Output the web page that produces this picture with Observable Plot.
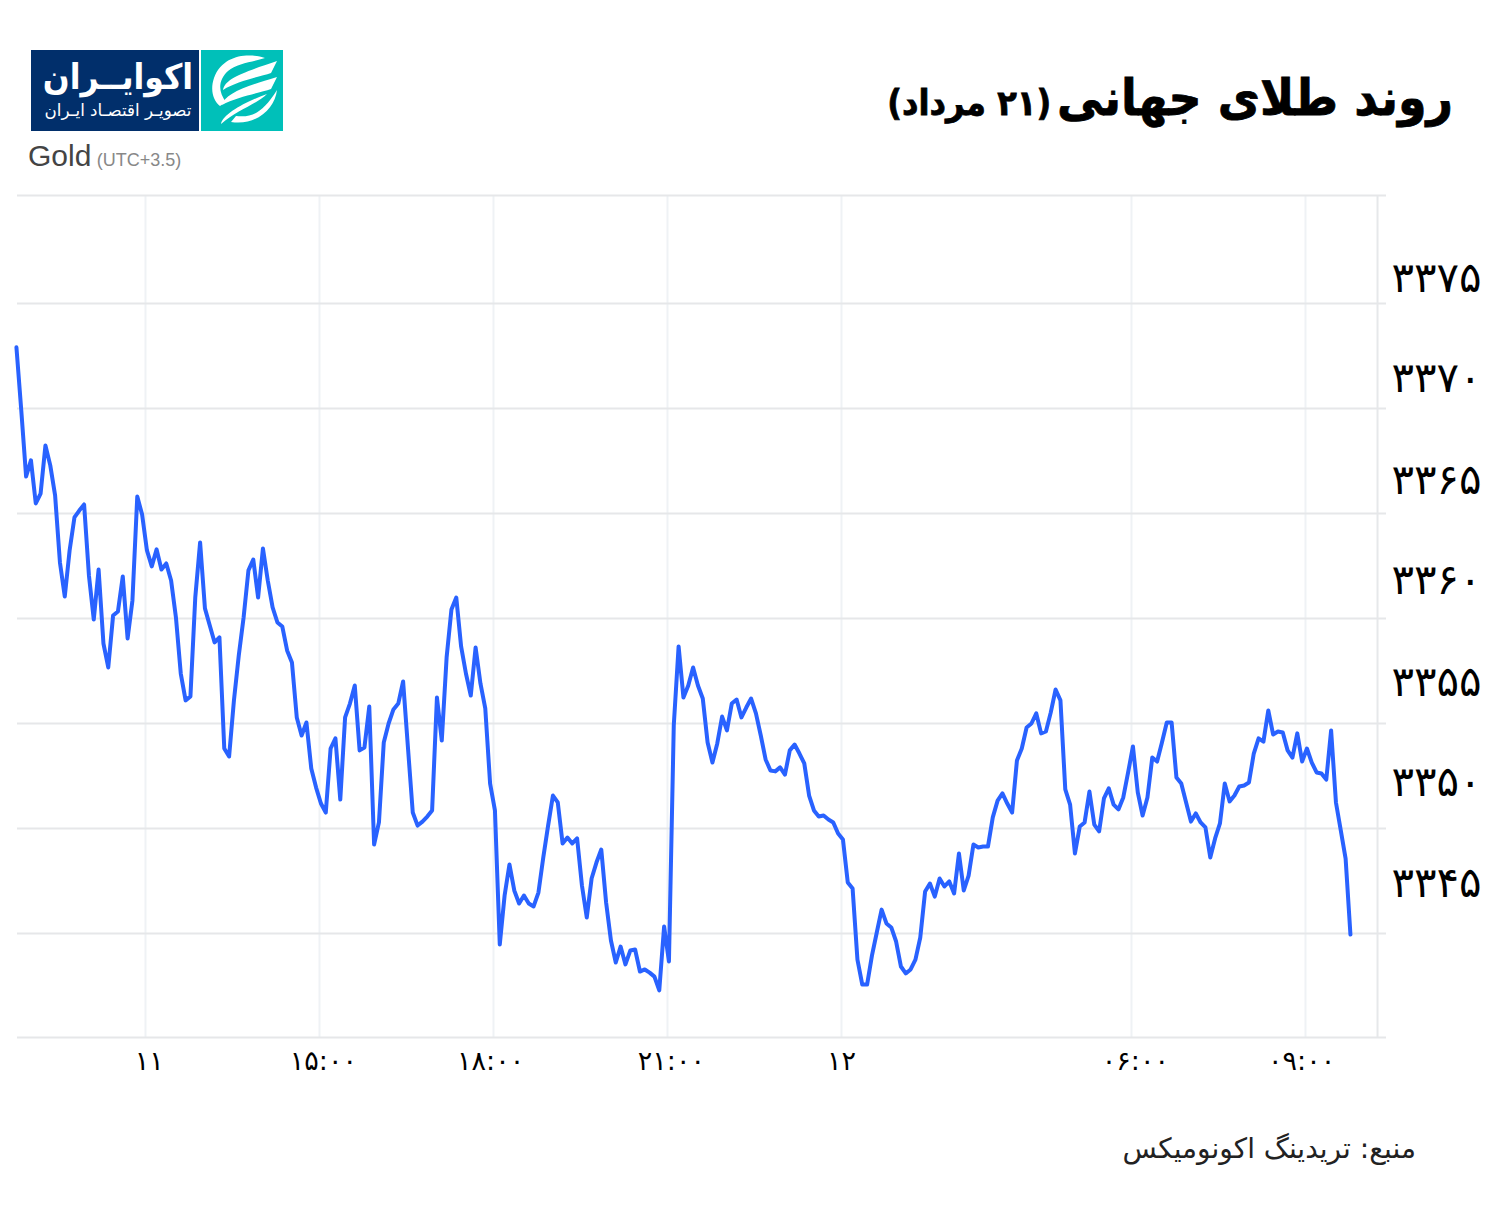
<!DOCTYPE html>
<html lang="fa">
<head>
<meta charset="utf-8">
<script src="https://cdn.jsdelivr.net/npm/d3@7"></script>
<script src="https://cdn.jsdelivr.net/npm/@observablehq/plot@0.6"></script>
<style>
html,body{margin:0;padding:0;background:#fff;width:1500px;height:1211px;overflow:hidden;font-family:"DejaVu Sans",sans-serif}
.abs{position:absolute;white-space:nowrap}
#chart{position:absolute;left:0;top:180px}
</style>
</head>
<body>
<div class="abs" dir="rtl" style="right:47px;top:63px;line-height:70px;font-weight:700;color:#000;font-size:50px;transform:scaleX(.92);transform-origin:right center;-webkit-text-stroke:.8px #000">روند طلای جهانی <span style="font-size:35px;margin-right:-11px">(۲۱ مرداد)</span></div>
<div class="abs" style="left:31px;top:50px;width:168px;height:81px;background:#012f6b"></div>
<div class="abs" style="left:201px;top:50px;width:82px;height:81px;background:#00c0b9">
<svg width="82" height="81" viewBox="0 0 82 81" fill="#fff">
<path d="M64 8 C48 3 22 4 13 28 C9 40 12 50 19 56 L25 52 C17 42 17 30 27 21 C36 13 52 12 64 8Z"/>
<path d="M76 14 L70 26 C58 30 36 34 22 43 C24 32 40 26 76 14Z" transform="translate(0,-3)"/>
<path d="M76 30 L70 42 C58 46 36 50 21 58 C24 47 42 40 76 30Z" transform="translate(0,-3)"/>
<path d="M76 40 C74 58 56 76 30 72 L35 66 C52 68 62 62 76 40Z"/>
<path d="M66 44 C56 54 36 60 20 74 C22 64 44 52 66 44Z"/>
</svg>
</div>
<div class="abs" dir="rtl" style="left:34px;width:168px;top:52px;text-align:center;color:#fff;font-weight:700;font-size:35px;line-height:50px;transform:scaleX(.9)">اکوایــران</div>
<div class="abs" dir="rtl" style="left:34px;width:168px;top:98px;text-align:center;color:#fff;font-size:16.7px;line-height:24px">تصویـر اقتصـاد ایـران</div>
<div class="abs" style="left:28px;top:138px;font-family:'Liberation Sans',sans-serif;font-size:30px;line-height:36px;color:#444">Gold <span style="font-size:18px;color:#888;margin-left:-3px">(UTC+3.5)</span></div>
<div id="chart"></div>
<div class="abs" dir="rtl" style="right:84px;top:1131px;font-size:28px;line-height:36px;color:#222">منبع: تریدینگ اکونومیکس</div>
<script>
// Minutes of trading time counted from 12:00 on the 11th
const tickMinutes = [0, 180, 360, 540, 720, 1020, 1200];
const tickLabelMinutes = [4, 184, 357, 544, 720, 1024, 1196];
const tickLabels = ["۱۱", "۱۵:۰۰", "۱۸:۰۰", "۲۱:۰۰", "۱۲", "۰۶:۰۰", "۰۹:۰۰"];
const priceLabelAt = [3347.38, 3352.19, 3356.95, 3361.81, 3366.57, 3371.43, 3376.19];
const priceLabels = ["۳۳۴۵", "۳۳۵۰", "۳۳۵۵", "۳۳۶۰", "۳۳۶۵", "۳۳۷۰", "۳۳۷۵"];
const gridPrices = [3340.05, 3345, 3350, 3355, 3360, 3365, 3370, 3375, 3380.14];
const firstMinute = -133.5;
const stepMinutes = 5;
const gold = [
3372.91,3369.91,3366.76,3367.53,3365.48,3365.95,3368.24,3367.29,3365.86,3362.67,
3361.05,3363.24,3364.81,3365.14,3365.43,3362.05,3359.95,3362.33,3358.81,3357.67,
3360.14,3360.33,3362.00,3359.05,3360.86,3365.81,3364.95,3363.24,3362.48,3363.29,
3362.33,3362.62,3361.81,3360.05,3357.38,3356.10,3356.29,3361.00,3363.62,3360.48,
3359.67,3358.86,3359.10,3353.81,3353.43,3356.10,3358.24,3360.05,3362.29,3362.81,
3361.00,3363.33,3361.81,3360.53,3359.81,3359.62,3358.48,3357.91,3355.29,3354.43,
3355.05,3352.86,3351.95,3351.19,3350.76,3353.81,3354.29,3351.38,3355.29,3355.95,
3356.81,3353.72,3353.86,3355.81,3349.24,3350.29,3354.10,3355.00,3355.67,3355.95,
3357.00,3353.86,3350.76,3350.14,3350.33,3350.57,3350.86,3356.24,3354.19,3358.14,
3360.43,3361.00,3358.67,3357.38,3356.33,3358.62,3356.91,3355.72,3352.14,3350.86,
3344.48,3346.81,3348.29,3347.05,3346.43,3346.81,3346.43,3346.29,3346.95,3348.62,
3350.14,3351.57,3351.24,3349.29,3349.57,3349.29,3349.53,3347.29,3345.76,3347.62,
3348.38,3349.00,3346.48,3344.67,3343.62,3344.38,3343.53,3344.19,3344.24,3343.19,
3343.29,3343.14,3342.95,3342.29,3345.33,3343.67,3354.91,3358.67,3356.24,3356.81,
3357.67,3356.81,3356.19,3354.10,3353.14,3354.05,3355.33,3354.67,3355.95,3356.14,
3355.29,3355.76,3356.19,3355.48,3354.43,3353.29,3352.76,3352.72,3352.91,3352.57,
3353.72,3354.00,3353.57,3353.10,3351.57,3350.86,3350.57,3350.62,3350.43,3350.29,
3349.76,3349.48,3347.43,3347.14,3343.76,3342.57,3342.57,3343.95,3345.05,3346.14,
3345.48,3345.29,3344.62,3343.43,3343.10,3343.29,3343.76,3344.81,3347.00,3347.38,
3346.76,3347.62,3347.24,3347.48,3346.91,3348.81,3347.05,3347.76,3349.24,3349.10,
3349.14,3349.14,3350.53,3351.33,3351.67,3351.19,3350.76,3353.24,3353.81,3354.81,
3355.00,3355.48,3354.53,3354.62,3355.53,3356.62,3356.10,3351.86,3351.14,3348.81,
3350.10,3350.29,3351.76,3350.19,3349.86,3351.43,3351.91,3351.14,3350.91,3351.48,
3352.67,3353.91,3351.72,3350.62,3351.48,3353.38,3353.19,3354.10,3355.05,3355.05,
3352.43,3352.14,3351.24,3350.33,3350.72,3350.29,3350.05,3348.62,3349.53,3350.24,
3352.14,3351.29,3351.57,3352.00,3352.05,3352.19,3353.57,3354.29,3354.14,3355.62,
3354.48,3354.62,3354.57,3353.72,3353.38,3354.53,3353.19,3353.81,3353.14,3352.67,
3352.62,3352.33,3354.67,3351.24,3349.91,3348.57,3344.95
];
const rows = gold.map((price, i) => ({minute: firstMinute + stepMinutes * i, price}));
const xLabel = new Map(tickLabelMinutes.map((m, i) => [m, tickLabels[i]]));
const yLabel = new Map(priceLabelAt.map((p, i) => [p, priceLabels[i]]));

const plot = Plot.plot({
  width: 1500,
  height: 910,
  marginTop: 15,
  marginBottom: 53,
  marginLeft: 17,
  marginRight: 114,
  style: {fontFamily: "'DejaVu Sans',sans-serif", background: "transparent", color: "#000"},
  x: {type: "linear", domain: [-132.4, 1283.8]},
  y: {domain: [3340.05, 3380.14]},
  marks: [
    Plot.ruleX(tickMinutes, {stroke: "#eff2f5", strokeWidth: 2}),
    Plot.ruleX([1274.5], {stroke: "#e6e8ea", strokeWidth: 2}),
    Plot.ruleY(gridPrices, {stroke: "#e6e7e9", strokeWidth: 2}),
    Plot.line(rows, {x: "minute", y: "price", stroke: "#2962ff", strokeWidth: 4, strokeLinejoin: "round", strokeLinecap: "round"}),
    Plot.axisX({ticks: tickLabelMinutes, tickFormat: d => xLabel.get(d), tickSize: 0, tickPadding: 13, fontSize: 27, label: null}),
    Plot.axisY({anchor: "right", ticks: priceLabelAt, tickFormat: d => yLabel.get(d), tickSize: 0, tickPadding: 3, dx: 47, textAnchor: "middle", fontSize: 42, label: null})
  ]
});
document.getElementById("chart").appendChild(plot);
</script>
</body>
</html>
